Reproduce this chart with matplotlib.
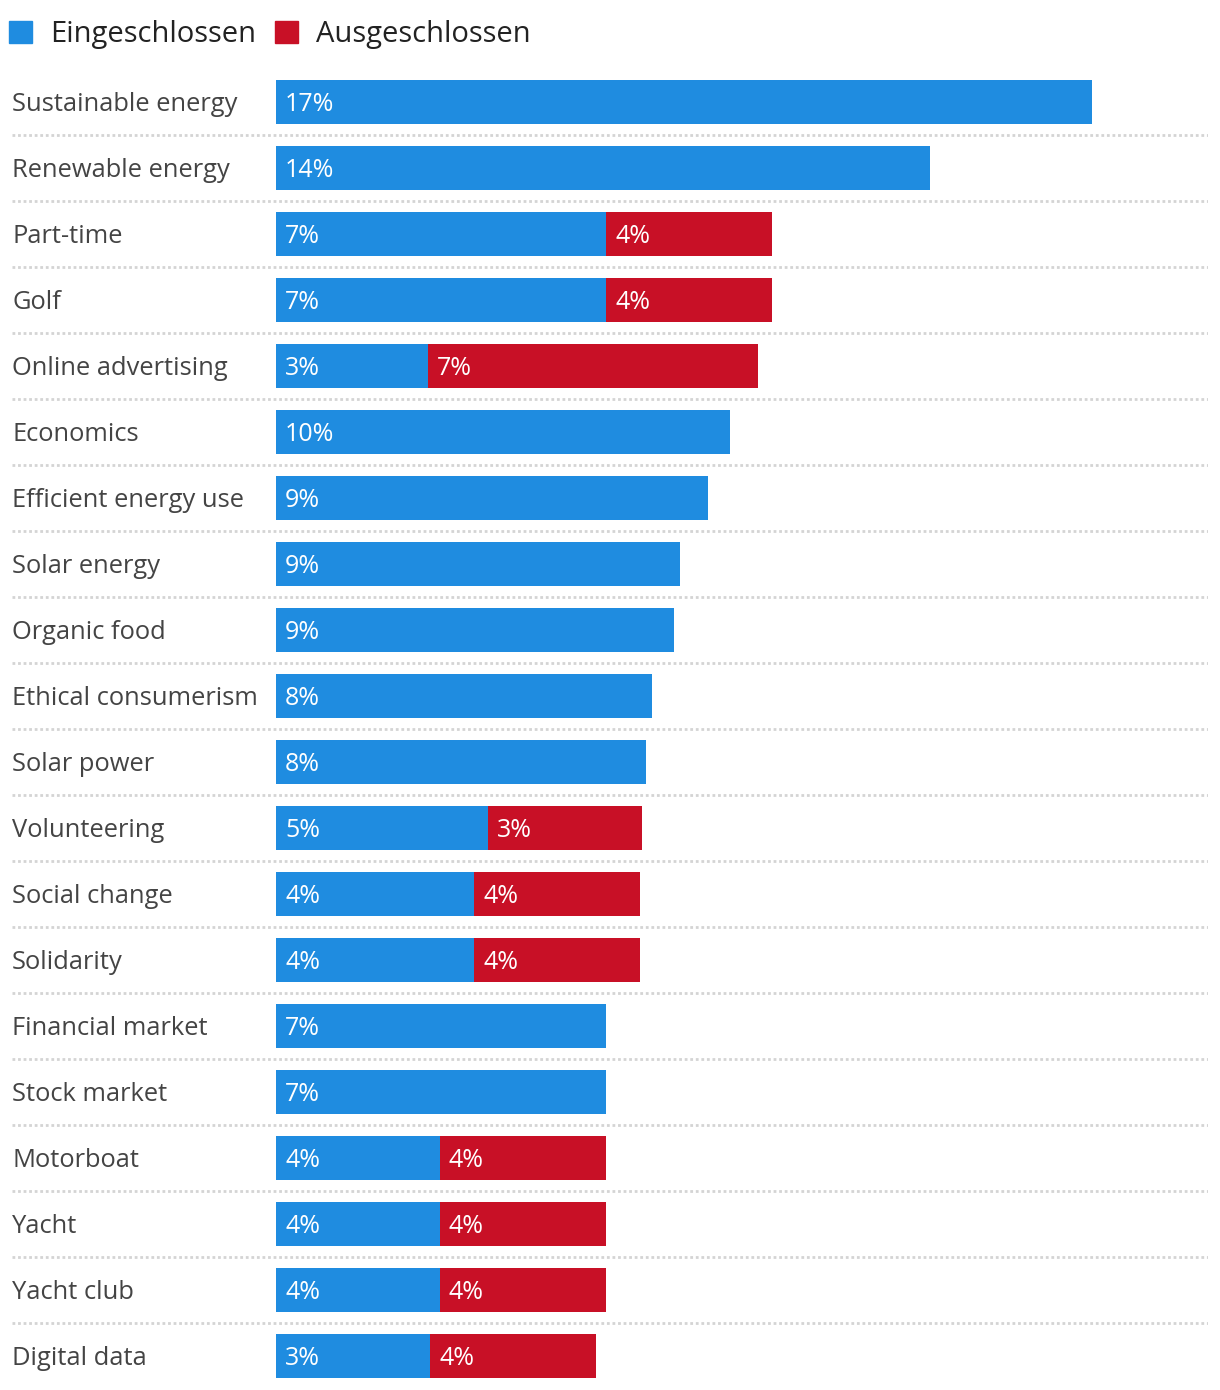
import matplotlib.pyplot as plt
from matplotlib.patches import Patch

# data (percent of results)
categories = ["Sustainable energy", "Renewable energy", "Part-time", "Golf",
              "Online advertising", "Economics", "Efficient energy use",
              "Solar energy", "Organic food", "Ethical consumerism",
              "Solar power", "Volunteering", "Social change", "Solidarity",
              "Financial market", "Stock market", "Motorboat", "Yacht",
              "Yacht club", "Digital data"]
included = [17.47, 14.00, 7.07, 7.07, 3.25, 9.72, 9.25, 8.65, 8.52, 8.05,
            7.92, 4.54, 4.24, 4.24, 7.07, 7.07, 3.51, 3.51, 3.51, 3.30]
excluded = [0, 0, 3.55, 3.55, 7.07, 0, 0, 0, 0, 0,
            0, 3.30, 3.55, 3.55, 0, 0, 3.55, 3.55, 3.55, 3.55]
series_names = ["Eingeschlossen", "Ausgeschlossen"]

BLUE = "#1f8ce0"
RED = "#c81026"
FONT = "Open Sans"

W, H = 1220, 1390
fig = plt.figure(figsize=(W / 100, H / 100), dpi=100)
# axes from x=12..1208 px, y=69..1389 px
ax = fig.add_axes([12 / W, 1 / H, 1196 / W, 1320 / H])

px_per_pct = 46.7
ax.set_xlim(-(276 - 12) / px_per_pct, (1208 - 276) / px_per_pct)
ax.set_ylim(len(categories) - 0.5, -0.5)
ax.axis("off")

ys = list(range(len(categories)))
b1 = ax.barh(ys, included, height=44 / 66, color=BLUE, label=series_names[0])
b2 = ax.barh(ys, excluded, left=included, height=44 / 66, color=RED, label=series_names[1])

pad = 9 / px_per_pct
dy = 0.04  # text sits a touch below the bar centre
for y, name, inc, exc in zip(ys, categories, included, excluded):
    ax.text(0, y + dy, name, transform=ax.get_yaxis_transform(), ha="left", va="center",
            fontsize=18.4, color="#444444", family=FONT)
    if inc > 0:
        ax.text(pad, y + dy, f"{inc:.0f}%", ha="left", va="center", fontsize=18,
                color="white", family=FONT)
    if exc > 0:
        ax.text(inc + pad, y + dy, f"{exc:.0f}%", ha="left", va="center", fontsize=18,
                color="white", family=FONT)
    if y < len(categories) - 1:
        ax.axhline(y + 0.5, color="#d4d4d4", lw=2, ls=(0, (1, 1)))

fig.legend(handles=[Patch(color=BLUE), Patch(color=RED)], labels=series_names,
           loc="upper left", bbox_to_anchor=(9 / W, 1 - 20 / H), ncol=2,
           frameon=False, handlelength=0.78, handleheight=0.8,
           handletextpad=0.62, columnspacing=0.65, borderpad=0, borderaxespad=0,
           prop={"family": FONT, "size": 21}, labelcolor="#222222")

fig.savefig("out.png", dpi=100)
